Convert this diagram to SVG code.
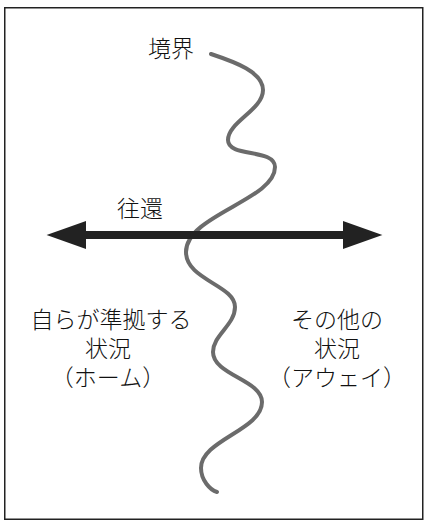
<svg xmlns="http://www.w3.org/2000/svg" width="430" height="528" viewBox="0 0 430 528">
  <style>
    .t { font-family: "Noto Sans CJK JP", "Noto Sans", sans-serif; font-size: 23px; fill: #111; font-weight: 300; }
    .m { text-anchor: middle; }
  </style>
  <defs>
    <marker id="ah" markerUnits="userSpaceOnUse" markerWidth="40" markerHeight="28" refX="0" refY="13.5" orient="auto-start-reverse" viewBox="0 0 38 27">
      <path d="M0,0 L38,13.5 L0,27 z" fill="#222"/>
    </marker>
  </defs>
  <rect x="4.75" y="7.75" width="418" height="511.5" fill="#fff" stroke="#222" stroke-width="1.5"/>
  <g id="boundary">
    <path d="M211,54 C235,62 263,72 263,90 C263,110 228,122 228,140 C228,158 275,148 275,167 C275,200 186,215 186,252 C186,280 235,285 235,307 C235,325 213,335 213,352 C213,375 262,380 262,402 C262,430 201,440 201,468 C201,480 210,490 217,492" fill="none" stroke="#6b6b6b" stroke-width="4" stroke-linecap="round"/>
    <text class="t m" x="171" y="57">境界</text>
  </g>
  <g id="connectors">
    <line x1="86" y1="235" x2="343" y2="235" stroke="#222" stroke-width="8" marker-start="url(#ah)" marker-end="url(#ah)"/>
    <text class="t m" x="140" y="217">往還</text>
  </g>
  <g id="home">
    <text class="t m"><tspan x="111" y="328">自らが準拠する</tspan><tspan x="108" y="357">状況</tspan><tspan x="108" y="386">（ホーム）</tspan></text>
  </g>
  <g id="away">
    <text class="t m"><tspan x="337" y="328">その他の</tspan><tspan x="337" y="357">状況</tspan><tspan x="337" y="386">（アウェイ）</tspan></text>
  </g>
</svg>
